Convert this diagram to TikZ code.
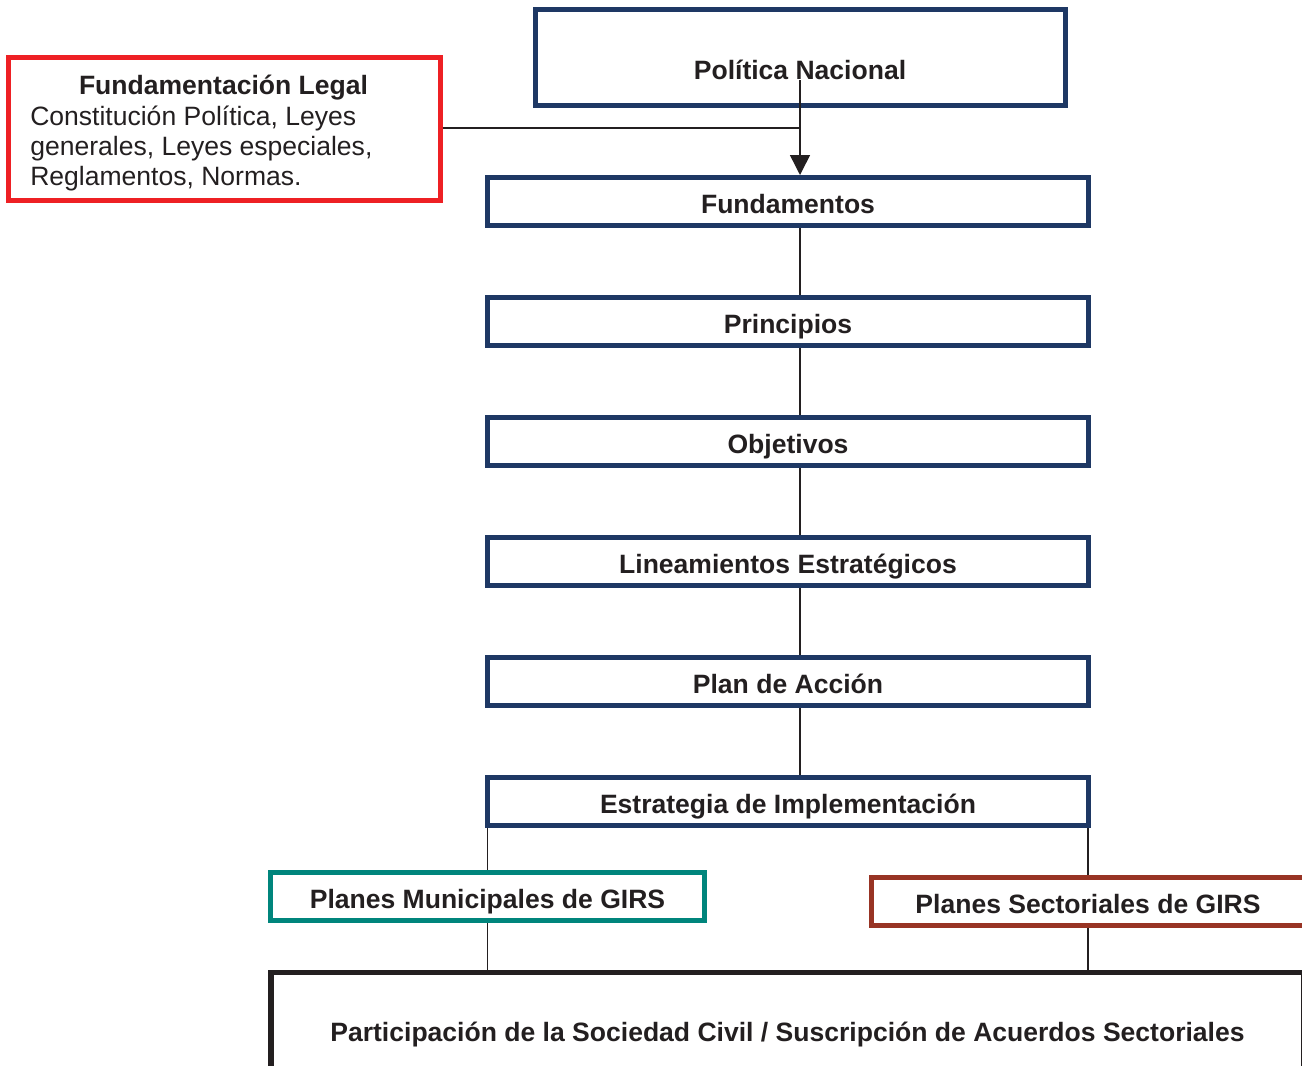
\documentclass[tikz,border=0pt]{standalone}
\usepackage{fontspec}
\setmainfont{Liberation Sans}
\usetikzlibrary{arrows.meta}
\definecolor{navy}{HTML}{1E3864}
\definecolor{legalred}{HTML}{EE2024}
\definecolor{tealc}{HTML}{00857C}
\definecolor{brownc}{HTML}{983424}
\definecolor{inkc}{HTML}{231F20}
\tikzset{
  boxtext/.style={font=\fontsize{19.9}{23}\selectfont\bfseries, text=inkc, inner sep=0pt},
  navybox/.style={boxtext, draw=navy, line width=3.75pt, fill=white, minimum width=450.75pt, minimum height=36pt, text height=18pt, text depth=0pt},
  conn/.style={draw=inkc, line width=1.1pt},
  plaintext/.style={font=\fontsize{19.9}{23}\selectfont, text=inkc, inner sep=0pt},
}
\begin{document}
\begin{tikzpicture}[x=0.75pt,y=-0.75pt]
\useasboundingbox (0,0) rectangle (1302,1065);
\clip (0,0) rectangle (1302,1065);
\coordinate (spine) at (800,0);

% Politica Nacional
\node[boxtext, draw=navy, line width=3.75pt, minimum width=397.5pt, minimum height=72pt, text height=33.75pt, text depth=0pt] (pol) at (800,57) {Política Nacional};

% Fundamentacion Legal
\node[draw=legalred, line width=3.75pt, minimum width=324pt, minimum height=107.25pt, inner sep=0pt] (legal) at (224,128.5) {};
\node[boxtext, anchor=base] (legaltitle) at (223.5,94.5) {Fundamentación Legal};
\node[plaintext, anchor=base west] (legal1) at (30,125.5) {Constitución Política, Leyes};
\node[plaintext, anchor=base west] (legal2) at (30,155.5) {generales, Leyes especiales,};
\node[plaintext, anchor=base west] (legal3) at (30,185.5) {Reglamentos, Normas.};

% main chain
\node[navybox] (fund) at (788,201.5) {Fundamentos};
\node[navybox] (prin) at (788,321.5) {Principios};
\node[navybox] (obj)  at (788,441.5) {Objetivos};
\node[navybox] (lin)  at (788,561.5) {Lineamientos Estratégicos};
\node[navybox] (plan) at (788,681.5) {Plan de Acción};
\node[navybox] (estr) at (788,801.5) {Estrategia de Implementación};

% plans
\node[boxtext, draw=tealc, line width=3.75pt, minimum width=325.5pt, minimum height=36pt, text height=18pt, text depth=0pt] (muni) at (487.5,896.5) {Planes Municipales de GIRS};
\node[boxtext, draw=brownc, line width=3.75pt, minimum width=324.75pt, minimum height=36pt, text height=18pt, text depth=0pt] (sect) at (1088,901.5) {Planes Sectoriales de GIRS};

% bottom
\node[boxtext, draw=inkc, line width=4pt, minimum width=774.75pt, minimum height=89.25pt, text height=14.25pt, text depth=0pt] (part) at (787.5,1032) {Participación de la Sociedad Civil / Suscripción de Acuerdos Sectoriales};

% connectors
\coordinate (polstart) at (800,80);
\coordinate (join) at (800,128);
\draw[conn] (legal.east |- join) -- (join);
\draw[conn, -{Triangle[width=15pt,length=15pt]}] (polstart) -- (fund.north -| spine);
\draw[conn] (fund.south -| spine) -- (prin.north -| spine);
\draw[conn] (prin.south -| spine) -- (obj.north -| spine);
\draw[conn] (obj.south -| spine) -- (lin.north -| spine);
\draw[conn] (lin.south -| spine) -- (plan.north -| spine);
\draw[conn] (plan.south -| spine) -- (estr.north -| spine);
\draw[conn] (estr.south -| muni) -- (muni.north);
\draw[conn] (estr.south -| sect) -- (sect.north);
\draw[conn] (muni.south) -- (part.north -| muni);
\draw[conn] (sect.south) -- (part.north -| sect);
\end{tikzpicture}
\end{document}
